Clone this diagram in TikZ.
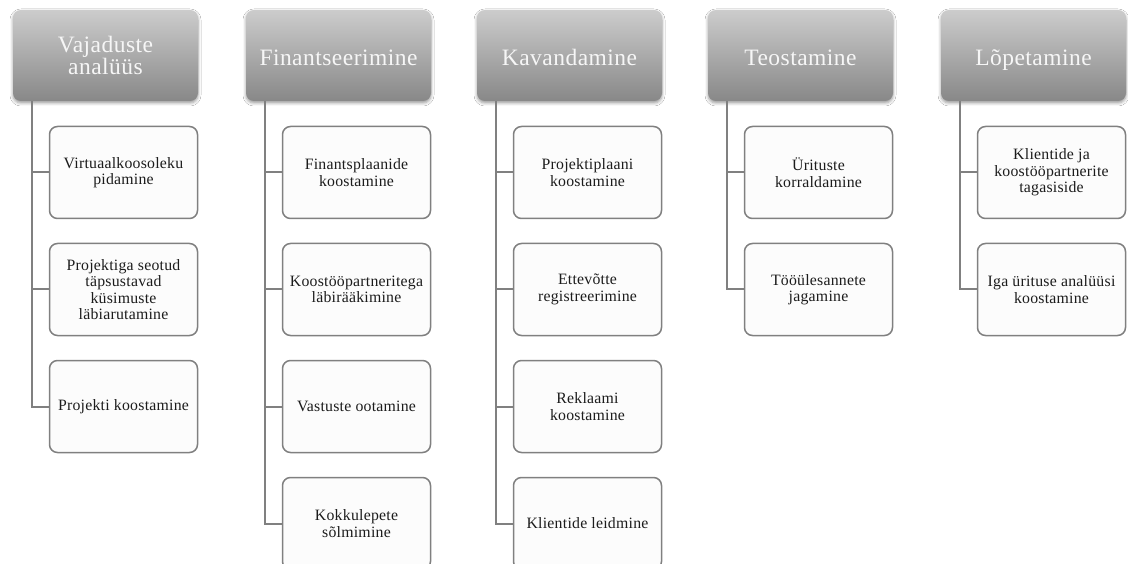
\documentclass[tikz,border=0pt]{standalone}
\usepackage{fontspec}
\setmainfont{Liberation Serif}
\newfontfamily\headfont[LetterSpace=2]{Liberation Serif}
\newfontfamily\itemfont[LetterSpace=1.5]{Liberation Serif}
\usetikzlibrary{shadows.blur}

\definecolor{headtop}{RGB}{204,204,204}
\definecolor{headbot}{RGB}{136,136,136}
\definecolor{headtext}{RGB}{246,246,246}
\definecolor{linegray}{RGB}{128,128,128}
\definecolor{boxfill}{RGB}{252,252,252}
\definecolor{itemtext}{RGB}{28,28,28}

\tikzset{
  phase/.style={rounded corners=8pt, top color=headtop, bottom color=headbot,
    draw=none, minimum width=185pt, minimum height=91pt, inner sep=0pt,
    align=center, text=headtext, font=\headfont\fontsize{23.5}{21.5}\selectfont,
    text height=24pt, text depth=3pt,
    blur shadow={shadow xshift=0pt, shadow yshift=-2pt,
      shadow blur radius=3pt, shadow opacity=40}},
  phasetwo/.style={phase, text height={}, text depth={}},
  task/.style={rounded corners=8pt, draw=linegray, line width=1.5pt,
    fill=boxfill, minimum width=148pt, minimum height=92pt, inner sep=0pt,
    align=center, text=itemtext, font=\itemfont\fontsize{15.8}{16.5}\selectfont},
  link/.style={draw=linegray, line width=2pt}
}

\begin{document}
\begin{tikzpicture}[x=1pt, y=-1pt]
  \useasboundingbox (0,0) rectangle (1128,564);
  \fill[white] (0,0) rectangle (1128,564);
  \clip (0,0) rectangle (1128,564);

  % phase headers
  \node[phasetwo] (h1) at (105.5,55.5) {Vajaduste\\analüüs};
  \node[phase] (h2) at (338.5,55.5) {Finantseerimine};
  \node[phase] (h3) at (569.5,55.5) {Kavandamine};
  \node[phase] (h4) at (800.5,55.5) {Teostamine};
  \node[phase] (h5) at (1033.5,55.5) {Lõpetamine};

  % tasks of each phase
  \node[task] (a1) at (123.5,172.5) {Virtuaalkoosoleku\\pidamine};
  \node[task] (a2) at (123.5,289.5) {Projektiga seotud\\täpsustavad\\küsimuste\\läbiarutamine};
  \node[task] (a3) at (123.5,406.5) {Projekti koostamine};

  \node[task] (b1) at (356.5,172.5) {Finantsplaanide\\koostamine};
  \node[task] (b2) at (356.5,289.5) {Koostööpartneritega\\läbirääkimine};
  \node[task] (b3) at (356.5,406.5) {Vastuste ootamine};
  \node[task] (b4) at (356.5,523.5) {Kokkulepete\\sõlmimine};

  \node[task] (c1) at (587.5,172.5) {Projektiplaani\\koostamine};
  \node[task] (c2) at (587.5,289.5) {Ettevõtte\\registreerimine};
  \node[task] (c3) at (587.5,406.5) {Reklaami\\koostamine};
  \node[task] (c4) at (587.5,523.5) {Klientide leidmine};

  \node[task] (d1) at (818.5,172.5) {Ürituste\\korraldamine};
  \node[task] (d2) at (818.5,289.5) {Tööülesannete\\jagamine};

  \node[task] (e1) at (1051.5,172.5) {Klientide ja\\koostööpartnerite\\tagasiside};
  \node[task] (e2) at (1051.5,289.5) {Iga ürituse analüüsi\\koostamine};

  % connectors from each header down to its tasks
  \foreach \h/\t in {h1/a1,h1/a2,h1/a3,h2/b1,h2/b2,h2/b3,h2/b4,
                     h3/c1,h3/c2,h3/c3,h3/c4,h4/d1,h4/d2,h5/e1,h5/e2}
    \draw[link] ([xshift=19pt]\h.south west) |- (\t.west);
\end{tikzpicture}
\end{document}
